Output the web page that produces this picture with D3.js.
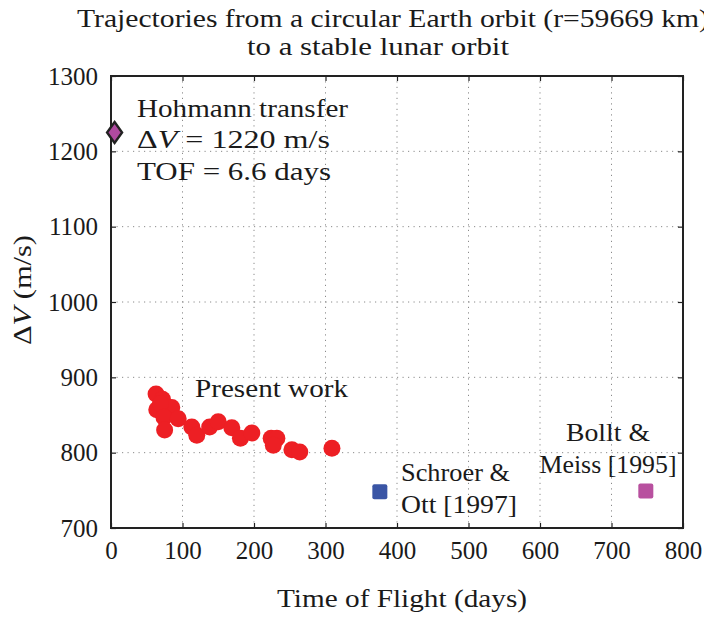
<!DOCTYPE html>
<html>
<head>
<meta charset="utf-8">
<script src="https://cdn.jsdelivr.net/npm/d3@7"></script>
<style>
  body { margin: 0; background: #fff; }
  svg text { font-family: "Liberation Serif", "DejaVu Serif", serif !important; fill: #1a1a1a; }
</style>
</head>
<body>
<script>
// present work: time of flight (days) and delta-v (m/s)
var presentTof = [63, 72, 85, 64, 69, 74, 94, 75, 113, 120, 138, 150, 169, 181, 197, 224, 232, 227, 253, 264, 309];
var presentDv  = [878, 871, 860, 857, 865, 847, 845, 830, 834, 823, 834, 841, 833, 819, 826, 819, 819, 810, 804, 801, 806];

// single reference results
var hohmann = { tof: 5, dv: 1225 };
var schroer = { tof: 376, dv: 748 };
var bollt   = { tof: 748, dv: 749 };

var xTicks = [0, 100, 200, 300, 400, 500, 600, 700, 800];
var yTicks = [700, 800, 900, 1000, 1100, 1200, 1300];

var W = 704, H = 617;
var svg = d3.select('body').append('svg').attr('width', W).attr('height', H);

var x = d3.scaleLinear().domain([0, 800]).range([111, 683]);
var y = d3.scaleLinear().domain([700, 1300]).range([528, 76]);

// dotted grid
var grid = svg.append('g');
grid.selectAll('line.gx').data(xTicks.slice(1, -1)).enter().append('line')
  .attr('x1', d => x(d)).attr('x2', d => x(d)).attr('y1', y(700)).attr('y2', y(1300))
  .attr('stroke', '#8a8a8a').attr('stroke-width', 1).attr('stroke-dasharray', '1.2,4.3');
grid.selectAll('line.gy').data(yTicks.slice(1, -1)).enter().append('line')
  .attr('x1', x(0)).attr('x2', x(800)).attr('y1', d => y(d)).attr('y2', d => y(d))
  .attr('stroke', '#8a8a8a').attr('stroke-width', 1).attr('stroke-dasharray', '1.2,4.3');

// axes with inward ticks
function styleAxis(g) {
  g.attr('font-family', null);
  g.select('.domain').remove();
  g.selectAll('.tick line').attr('stroke', '#222').attr('stroke-width', 1.2);
  g.selectAll('.tick text').attr('font-size', 25).attr('fill', '#1a1a1a');
}
svg.append('g').attr('transform', 'translate(0,' + y(700) + ')')
  .call(d3.axisBottom(x).tickValues(xTicks).tickSize(-5).tickPadding(13).tickFormat(d3.format('d')))
  .call(styleAxis);
svg.append('g').attr('transform', 'translate(0,' + y(1300) + ')')
  .call(d3.axisTop(x).tickValues(xTicks).tickSize(-5).tickFormat(''))
  .call(styleAxis);
svg.append('g').attr('transform', 'translate(' + x(0) + ',0)')
  .call(d3.axisLeft(y).tickValues(yTicks).tickSize(-5).tickPadding(13).tickFormat(d3.format('d')))
  .call(styleAxis);
svg.append('g').attr('transform', 'translate(' + x(800) + ',0)')
  .call(d3.axisRight(y).tickValues(yTicks).tickSize(-5).tickFormat(''))
  .call(styleAxis);

// frame
svg.append('rect')
  .attr('x', x(0)).attr('y', y(1300))
  .attr('width', x(800) - x(0)).attr('height', y(700) - y(1300))
  .attr('fill', 'none').attr('stroke', '#222').attr('stroke-width', 2);

// present work dots
var pts = presentTof.map((t, i) => ({ tof: t, dv: presentDv[i] }));
svg.append('g').selectAll('circle').data(pts).enter().append('circle')
  .attr('cx', d => x(d.tof)).attr('cy', d => y(d.dv)).attr('r', 8.5)
  .attr('fill', '#ed1f24');

// squares
svg.append('g').selectAll('rect').data([
  { p: schroer, c: '#3a55a5' }, { p: bollt, c: '#b8509f' }
]).enter().append('rect')
  .attr('x', d => x(d.p.tof) - 7.5).attr('y', d => y(d.p.dv) - 7.5)
  .attr('width', 15).attr('height', 15).attr('rx', 2)
  .attr('fill', d => d.c);

// hohmann diamond
var hx = x(hohmann.tof), hy = y(hohmann.dv);
svg.append('path')
  .attr('d', 'M' + hx + ',' + (hy - 10.5) + 'L' + (hx + 7.5) + ',' + hy +
    'L' + hx + ',' + (hy + 10.5) + 'L' + (hx - 7.5) + ',' + hy + 'Z')
  .attr('fill', '#b04aa0').attr('stroke', '#222').attr('stroke-width', 2.4)
  .attr('stroke-linejoin', 'miter');

// text helper
function label(txt, px, py, len, anchor, size) {
  var t = svg.append('text').attr('x', px).attr('y', py)
    .attr('font-size', size || 26).attr('text-anchor', anchor || 'start');
  if (typeof txt === 'string') t.text(txt);
  else txt(t);
  if (len) t.attr('textLength', len).attr('lengthAdjust', 'spacingAndGlyphs');
  return t;
}

// title
label('Trajectories from a circular Earth orbit (r=59669 km)', 393, 27, 632, 'middle', 25);
label('to a stable lunar orbit', 378, 55, 262, 'middle', 25);

// annotations
label('Hohmann transfer', 137, 117, 211);
label(function (t) {
  t.append('tspan').text('Δ');
  t.append('tspan').attr('font-style', 'italic').text('V');
  t.append('tspan').text(' = 1220 m/s');
}, 137, 148, 193);
label('TOF = 6.6 days', 137, 180, 194);
label('Present work', 195, 397, 153);
label('Schroer &', 401, 481, 109);
label('Ott [1997]', 401, 513, 116);
label('Bollt &', 608, 441, 84, 'middle');
label('Meiss [1995]', 608, 473, 137, 'middle');

// axis titles
label('Time of Flight (days)', 402, 607, 250, 'middle');
svg.append('text')
  .attr('transform', 'translate(31,290) rotate(-90)')
  .attr('text-anchor', 'middle').attr('font-size', 26)
  .attr('textLength', 110).attr('lengthAdjust', 'spacingAndGlyphs')
  .call(function (t) {
    t.append('tspan').text('Δ');
    t.append('tspan').attr('font-style', 'italic').text('V');
    t.append('tspan').text(' (m/s)');
  });
</script>
</body>
</html>
